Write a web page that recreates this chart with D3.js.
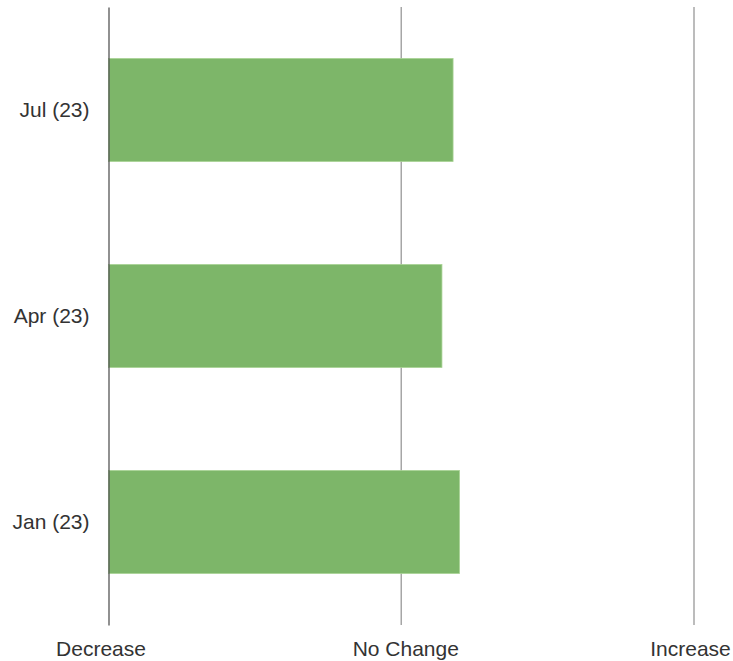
<!DOCTYPE html>
<html>
<head>
<meta charset="utf-8">
<script src="https://d3js.org/d3.v7.min.js"></script>
<style>
  body { margin: 0; background: #fff; }
  svg text { font-family: "Liberation Sans", Arial, sans-serif; fill: #333; }
</style>
</head>
<body>
<svg id="chart" width="733" height="661"></svg>
<script>
// categories top to bottom
var categories = ["Jul (23)", "Apr (23)", "Jan (23)"]
// -1 = decrease, 0 = no change, 1 = increase
var values = [0.177, 0.139, 0.199]
var tickValues = [-1, 0, 1]
var tickLabels = ["Decrease", "No Change", "Increase"]

var svg = d3.select("#chart"),
    margin = { top: 7, right: 39, bottom: 36, left: 108.5 },
    width = +svg.attr("width") - margin.left - margin.right,
    height = +svg.attr("height") - margin.top - margin.bottom

var x = d3.scaleLinear().domain([-1, 1]).range([0, width])
var y = d3.scaleBand().domain(categories).range([0, height])
    .paddingInner(0.5).paddingOuter(0.25)

var g = svg.append("g")
    .attr("transform", "translate(" + margin.left + "," + margin.top + ")")

// vertical grid lines
g.selectAll(".grid")
    .data(tickValues.slice(1))
    .enter().append("line")
    .attr("class", "grid")
    .attr("x1", function (d) { return x(d) })
    .attr("x2", function (d) { return x(d) })
    .attr("y1", 0)
    .attr("y2", height)
    .attr("stroke", "#a6a6a6")
    .attr("stroke-width", 1.5)

g.selectAll(".bar")
    .data(values)
    .enter().append("rect")
    .attr("class", "bar")
    .attr("x", x(-1))
    .attr("y", function (d, i) { return y(categories[i]) })
    .attr("width", function (d) { return x(d) - x(-1) })
    .attr("height", y.bandwidth())
    .attr("fill", "#7db669")
    .attr("stroke", "#a9d394")
    .attr("stroke-width", 0.8)

// y axis
var yAxis = g.append("g")
    .call(d3.axisLeft(y).tickSize(0).tickPadding(19))
yAxis.select(".domain").attr("stroke", "#555").attr("stroke-width", 1.3)
yAxis.selectAll("text").style("font-size", "21px").attr("fill", "#333")

// x axis labels (small nudges like the original layout)
var labelNudge = [-8, 4, -4]
var xAxis = g.append("g")
    .attr("transform", "translate(0," + height + ")")
    .call(d3.axisBottom(x).tickValues(tickValues)
        .tickFormat(function (d, i) { return tickLabels[i] })
        .tickSize(0).tickPadding(16))
xAxis.select(".domain").remove()
xAxis.selectAll("text")
    .style("font-size", "21px")
    .attr("fill", "#333")
    .attr("dx", function (d, i) { return labelNudge[i] })
</script>
</body>
</html>
